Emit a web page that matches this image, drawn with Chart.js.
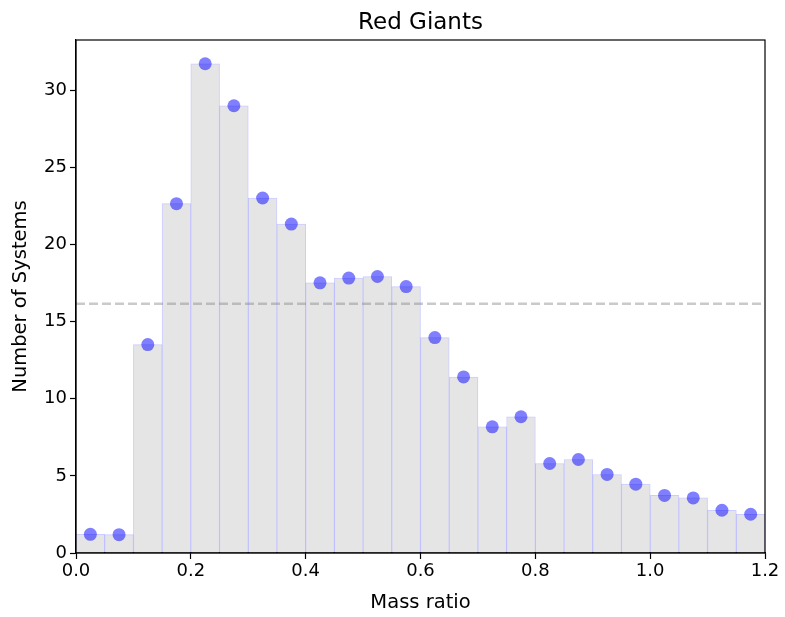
<!DOCTYPE html>
<html>
<head>
<meta charset="utf-8">
<script src="https://cdn.jsdelivr.net/npm/chart.js@4.4.1/dist/chart.umd.min.js"></script>
<style>
  html, body { margin: 0; padding: 0; background: #ffffff; }
  #wrap { width: 785px; height: 617px; }
</style>
</head>
<body>
<div id="wrap"><canvas id="c" width="785" height="617"></canvas></div>
<script>
// ---- data ----
const binCenters = [0.025, 0.075, 0.125, 0.175, 0.225, 0.275, 0.325, 0.375, 0.425, 0.475, 0.525, 0.575,
                    0.625, 0.675, 0.725, 0.775, 0.825, 0.875, 0.925, 0.975, 1.025, 1.075, 1.125, 1.175];
const counts = [1.21, 1.19, 13.51, 22.64, 31.71, 28.99, 23.01, 21.32, 17.51, 17.82, 17.92, 17.27,
                13.96, 11.41, 8.18, 8.83, 5.80, 6.06, 5.09, 4.46, 3.73, 3.57, 2.77, 2.51];
const meanLevel = 16.15;
const xTicks = [0.0, 0.2, 0.4, 0.6, 0.8, 1.0, 1.2];
const yTicks = [0, 5, 10, 15, 20, 25, 30];
const xRange = [0, 1.2];
const yRange = [0, 33.25];
const chartTitle = 'Red Giants';

const FONT = 'DejaVu Sans';

// frame + title centred over the plot area (as matplotlib does)
const framePlugin = {
  id: 'frame',
  afterDatasetsDraw(chart) {
    const a = chart.chartArea, ctx = chart.ctx;
    ctx.save();
    ctx.strokeStyle = '#000';
    ctx.lineWidth = 1.2;
    ctx.strokeRect(a.left, a.top, a.right - a.left, a.bottom - a.top);
    ctx.fillStyle = '#000';
    ctx.font = '23px "' + FONT + '"';
    ctx.textAlign = 'center';
    ctx.textBaseline = 'alphabetic';
    ctx.fillText(chartTitle, (a.left + a.right) / 2, a.top - 11);
    ctx.restore();
  }
};

new Chart(document.getElementById('c'), {
  type: 'bar',
  data: {
    datasets: [
      {
        type: 'line',
        data: [{x: xRange[0], y: meanLevel}, {x: xRange[1], y: meanLevel}],
        borderColor: 'rgba(128,128,128,0.42)',
        borderWidth: 2.5,
        borderDash: [9, 4],
        pointRadius: 0,
        fill: false,
        order: 1
      },
      {
        type: 'scatter',
        data: binCenters.map((x, i) => ({x: x, y: counts[i]})),
        backgroundColor: 'rgba(0,0,255,0.5)',
        borderWidth: 0,
        pointRadius: 6.5,
        order: 0
      },
      {
        type: 'bar',
        data: binCenters.map((x, i) => ({x: x, y: counts[i]})),
        backgroundColor: '#e5e5e5',
        borderColor: 'rgba(110,110,255,0.35)',
        borderWidth: 1,
        barPercentage: 1.0,
        categoryPercentage: 1.0,
        order: 2
      }
    ]
  },
  options: {
    responsive: false,
    animation: false,
    devicePixelRatio: 1,
    layout: { padding: { left: 0, right: 20, top: 40, bottom: 0 } },
    plugins: {
      legend: { display: false },
      tooltip: { enabled: false },
      title: { display: false }
    },
    scales: {
      x: {
        type: 'linear',
        min: xRange[0],
        max: xRange[1],
        offset: false,
        afterBuildTicks: s => { s.ticks = xTicks.map(v => ({value: v})); },
        afterFit: s => { s.height = 64; },
        ticks: {
          color: '#000',
          font: { family: FONT, size: 18 },
          padding: 2,
          maxRotation: 0,
          callback: v => Number(v).toFixed(1)
        },
        grid: { offset: false, drawOnChartArea: false, tickLength: 6, tickColor: '#000', tickWidth: 1.2 },
        border: { display: true, color: '#000', width: 1.2 },
        title: {
          display: true,
          text: 'Mass ratio',
          color: '#000',
          font: { family: FONT, size: 19.5 },
          padding: { top: 3, bottom: 2 }
        }
      },
      y: {
        type: 'linear',
        min: yRange[0],
        max: yRange[1],
        afterBuildTicks: s => { s.ticks = yTicks.map(v => ({value: v})); },
        afterFit: s => { s.width = 76; },
        ticks: {
          color: '#000',
          font: { family: FONT, size: 18 },
          padding: 3
        },
        grid: { offset: false, drawOnChartArea: false, tickLength: 6, tickColor: '#000', tickWidth: 1.2 },
        border: { display: true, color: '#000', width: 1.2 },
        title: {
          display: true,
          text: 'Number of Systems',
          color: '#000',
          font: { family: FONT, size: 19.5 },
          padding: { top: 9, bottom: 9 }
        }
      }
    }
  },
  plugins: [framePlugin]
});
</script>
</body>
</html>
